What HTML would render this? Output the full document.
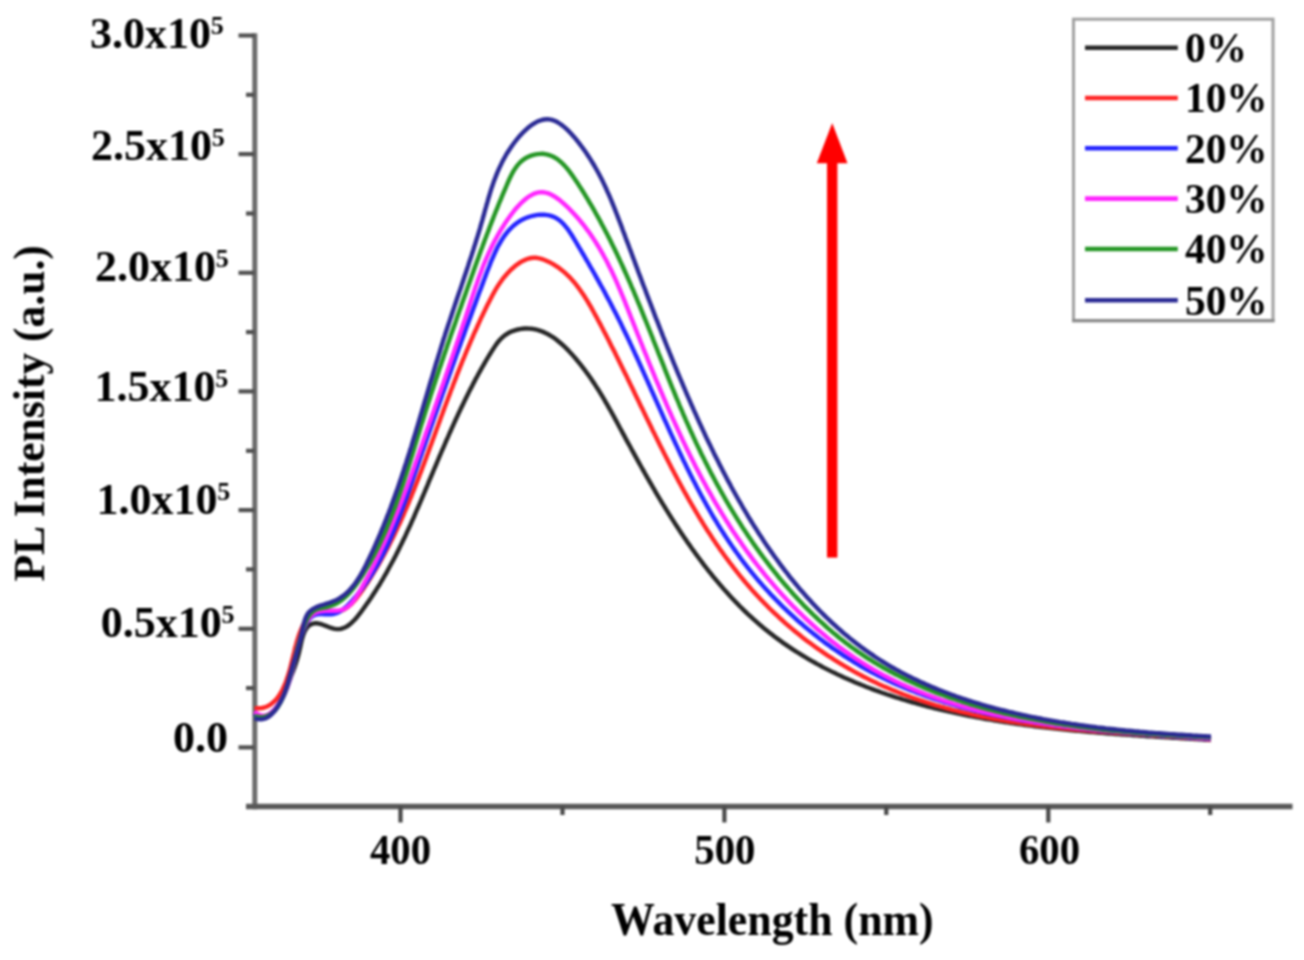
<!DOCTYPE html>
<html><head><meta charset="utf-8"><title>PL Intensity</title>
<style>html,body{margin:0;padding:0;background:#fff;width:1304px;height:960px;overflow:hidden}svg{display:block;filter:blur(0.9px)}</style>
</head><body>
<svg width="1304" height="960" viewBox="0 0 1304 960">
<rect width="1304" height="960" fill="#fff"/>
<g stroke-linecap="butt">
<line x1="254.8" y1="33.2" x2="254.8" y2="809.2" stroke="#6a6a6a" stroke-width="5.0"/>
<line x1="246" y1="806.5" x2="1292.5" y2="806.5" stroke="#585858" stroke-width="5.4"/>
<line x1="238.5" y1="35.5" x2="254.5" y2="35.5" stroke="#505050" stroke-width="4.2"/>
<line x1="246" y1="94.8" x2="254.5" y2="94.8" stroke="#505050" stroke-width="4.2"/>
<line x1="238.5" y1="154.1" x2="254.5" y2="154.1" stroke="#505050" stroke-width="4.2"/>
<line x1="246" y1="213.5" x2="254.5" y2="213.5" stroke="#505050" stroke-width="4.2"/>
<line x1="238.5" y1="272.8" x2="254.5" y2="272.8" stroke="#505050" stroke-width="4.2"/>
<line x1="246" y1="332.1" x2="254.5" y2="332.1" stroke="#505050" stroke-width="4.2"/>
<line x1="238.5" y1="391.4" x2="254.5" y2="391.4" stroke="#505050" stroke-width="4.2"/>
<line x1="246" y1="450.8" x2="254.5" y2="450.8" stroke="#505050" stroke-width="4.2"/>
<line x1="238.5" y1="510.1" x2="254.5" y2="510.1" stroke="#505050" stroke-width="4.2"/>
<line x1="246" y1="569.4" x2="254.5" y2="569.4" stroke="#505050" stroke-width="4.2"/>
<line x1="238.5" y1="628.8" x2="254.5" y2="628.8" stroke="#505050" stroke-width="4.2"/>
<line x1="246" y1="688.1" x2="254.5" y2="688.1" stroke="#505050" stroke-width="4.2"/>
<line x1="238.5" y1="747.4" x2="254.5" y2="747.4" stroke="#505050" stroke-width="4.2"/>
<line x1="400.5" y1="806.5" x2="400.5" y2="822.5" stroke="#484848" stroke-width="4.2"/>
<line x1="562.5" y1="806.5" x2="562.5" y2="815.0" stroke="#484848" stroke-width="4.2"/>
<line x1="724.4" y1="806.5" x2="724.4" y2="822.5" stroke="#484848" stroke-width="4.2"/>
<line x1="886.3" y1="806.5" x2="886.3" y2="815.0" stroke="#484848" stroke-width="4.2"/>
<line x1="1048.3" y1="806.5" x2="1048.3" y2="822.5" stroke="#484848" stroke-width="4.2"/>
<line x1="1210.2" y1="806.5" x2="1210.2" y2="815.0" stroke="#484848" stroke-width="4.2"/>
</g>
<g fill="none" stroke-width="4.40" stroke-linejoin="round" stroke-linecap="butt">
<path d="M254.5 713.0 L256.7 714.7 L258.9 715.8 L261.1 716.4 L263.2 716.5 L265.2 716.2 L267.1 715.6 L269.0 714.7 L270.8 713.4 L272.5 712.0 L274.1 710.3 L275.6 708.5 L277.0 706.6 L278.3 704.6 L279.6 702.6 L280.7 700.5 L281.8 698.3 L282.8 696.1 L283.8 693.9 L284.7 691.7 L285.6 689.6 L286.5 687.4 L287.4 685.3 L288.3 683.2 L289.1 681.1 L290.0 679.1 L290.8 677.0 L291.6 675.0 L292.4 673.0 L293.2 671.0 L293.9 668.9 L294.7 666.9 L295.4 664.8 L296.1 662.6 L296.8 660.5 L297.4 658.3 L298.1 656.0 L298.7 653.7 L299.3 651.3 L299.8 648.9 L300.4 646.4 L300.9 643.9 L301.5 641.3 L302.1 638.8 L302.8 636.4 L303.6 634.1 L304.4 632.0 L305.4 630.0 L306.6 628.2 L307.9 626.6 L309.3 625.4 L311.0 624.4 L312.7 623.7 L314.7 623.3 L316.7 623.3 L318.9 623.6 L321.1 624.2 L323.4 625.0 L325.8 625.9 L328.1 626.8 L330.4 627.7 L332.7 628.4 L334.9 628.9 L337.0 629.1 L339.1 629.1 L341.0 628.8 L342.9 628.2 L344.8 627.5 L346.5 626.6 L348.3 625.5 L349.9 624.2 L351.5 622.9 L353.1 621.3 L354.7 619.7 L356.2 618.0 L357.6 616.3 L359.1 614.4 L360.5 612.6 L361.9 610.7 L363.3 608.8 L364.6 606.9 L366.0 605.0 L367.3 603.1 L368.7 601.2 L370.0 599.3 L371.3 597.4 L372.5 595.5 L373.8 593.5 L375.1 591.6 L376.3 589.6 L377.5 587.7 L378.8 585.7 L380.0 583.8 L381.1 581.8 L382.3 579.8 L383.5 577.8 L384.6 575.8 L385.8 573.8 L386.9 571.9 L388.0 569.8 L389.1 567.8 L390.2 565.8 L391.3 563.8 L392.4 561.8 L393.5 559.8 L394.5 557.7 L395.6 555.7 L396.6 553.6 L397.7 551.6 L398.7 549.5 L399.7 547.5 L400.7 545.4 L401.7 543.4 L402.7 541.3 L403.7 539.2 L404.7 537.2 L405.7 535.1 L406.6 533.0 L407.6 530.9 L408.6 528.8 L409.5 526.8 L410.5 524.7 L411.4 522.6 L412.3 520.5 L413.3 518.4 L414.2 516.3 L415.1 514.2 L416.0 512.0 L416.9 509.9 L417.9 507.8 L418.8 505.7 L419.7 503.6 L420.6 501.5 L421.5 499.4 L422.4 497.2 L423.3 495.1 L424.2 493.0 L425.1 490.9 L426.0 488.7 L426.9 486.6 L427.8 484.5 L428.6 482.3 L429.5 480.2 L430.4 478.1 L431.3 475.9 L432.2 473.8 L433.1 471.7 L434.0 469.5 L434.9 467.4 L435.8 465.3 L436.7 463.1 L437.6 461.0 L438.5 458.9 L439.4 456.7 L440.3 454.6 L441.2 452.5 L442.1 450.3 L443.1 448.2 L444.0 446.1 L444.9 444.0 L445.8 441.8 L446.7 439.7 L447.7 437.6 L448.6 435.5 L449.5 433.4 L450.5 431.3 L451.4 429.2 L452.3 427.1 L453.3 425.0 L454.2 422.9 L455.2 420.8 L456.1 418.7 L457.1 416.6 L458.1 414.5 L459.0 412.4 L460.0 410.4 L461.0 408.3 L462.0 406.2 L463.0 404.2 L464.0 402.1 L465.0 400.1 L466.0 398.0 L467.0 396.0 L468.0 394.0 L469.0 391.9 L470.0 389.9 L471.1 387.9 L472.1 385.9 L473.1 383.9 L474.2 381.9 L475.2 379.9 L476.3 377.9 L477.4 376.0 L478.4 374.0 L479.5 372.1 L480.6 370.1 L481.7 368.2 L482.8 366.2 L483.9 364.3 L485.0 362.4 L486.1 360.5 L487.2 358.6 L488.4 356.7 L489.5 354.8 L490.7 353.0 L491.8 351.1 L493.0 349.3 L494.2 347.4 L495.4 345.6 L496.6 343.9 L497.9 342.2 L499.3 340.5 L500.7 339.0 L502.2 337.5 L503.9 336.1 L505.6 334.8 L507.4 333.6 L509.3 332.5 L511.3 331.6 L513.5 330.8 L515.6 330.1 L517.9 329.5 L520.1 329.1 L522.4 328.7 L524.8 328.5 L527.1 328.5 L529.3 328.6 L531.6 328.8 L533.8 329.1 L536.0 329.5 L538.2 330.1 L540.3 330.8 L542.4 331.6 L544.4 332.4 L546.5 333.4 L548.5 334.5 L550.4 335.6 L552.4 336.8 L554.3 338.1 L556.2 339.5 L558.0 341.0 L559.8 342.5 L561.6 344.0 L563.4 345.6 L565.1 347.2 L566.8 348.9 L568.5 350.6 L570.1 352.4 L571.7 354.1 L573.3 355.9 L574.9 357.7 L576.4 359.5 L577.9 361.3 L579.4 363.2 L580.9 365.0 L582.3 366.8 L583.7 368.6 L585.1 370.5 L586.4 372.3 L587.8 374.1 L589.1 376.0 L590.4 377.8 L591.7 379.7 L592.9 381.6 L594.2 383.4 L595.4 385.3 L596.6 387.2 L597.8 389.0 L599.0 390.9 L600.2 392.8 L601.3 394.7 L602.5 396.6 L603.6 398.5 L604.7 400.4 L605.8 402.3 L606.9 404.2 L608.0 406.1 L609.1 408.1 L610.2 410.0 L611.3 411.9 L612.3 413.8 L613.4 415.8 L614.5 417.7 L615.5 419.7 L616.6 421.6 L617.6 423.6 L618.7 425.5 L619.7 427.5 L620.8 429.5 L621.9 431.4 L622.9 433.4 L624.0 435.4 L625.1 437.4 L626.1 439.4 L627.2 441.4 L628.3 443.3 L629.4 445.3 L630.5 447.3 L631.6 449.4 L632.7 451.4 L633.8 453.4 L634.9 455.4 L636.0 457.4 L637.1 459.4 L638.2 461.4 L639.3 463.4 L640.5 465.5 L641.6 467.5 L642.7 469.5 L643.9 471.5 L645.0 473.6 L646.2 475.6 L647.3 477.6 L648.5 479.6 L649.6 481.6 L650.8 483.7 L652.0 485.7 L653.1 487.7 L654.3 489.7 L655.5 491.8 L656.7 493.8 L657.9 495.8 L659.1 497.8 L660.3 499.8 L661.5 501.9 L662.7 503.9 L664.0 505.9 L665.2 507.9 L666.4 509.9 L667.7 511.9 L668.9 513.9 L670.2 515.9 L671.4 517.9 L672.7 519.9 L674.0 521.9 L675.2 523.8 L676.5 525.8 L677.8 527.8 L679.1 529.8 L680.4 531.7 L681.7 533.7 L683.0 535.6 L684.3 537.6 L685.7 539.5 L687.0 541.5 L688.3 543.4 L689.7 545.3 L691.0 547.3 L692.4 549.2 L693.8 551.1 L695.1 553.0 L696.5 554.9 L697.9 556.8 L699.3 558.7 L700.7 560.5 L702.1 562.4 L703.5 564.3 L704.9 566.1 L706.4 568.0 L707.8 569.8 L709.2 571.6 L710.7 573.4 L712.2 575.3 L713.6 577.1 L715.1 578.8 L716.6 580.6 L718.1 582.4 L719.6 584.2 L721.1 585.9 L722.6 587.7 L724.1 589.4 L725.6 591.1 L727.2 592.8 L728.7 594.5 L730.3 596.2 L731.8 597.9 L733.4 599.6 L735.0 601.3 L736.6 602.9 L738.2 604.5 L739.8 606.2 L741.4 607.8 L743.0 609.4 L744.6 611.0 L746.3 612.5 L747.9 614.1 L749.6 615.6 L751.3 617.2 L752.9 618.7 L754.6 620.2 L756.3 621.7 L758.0 623.2 L759.7 624.7 L761.5 626.1 L763.2 627.6 L764.9 629.0 L766.7 630.4 L768.4 631.8 L770.2 633.2 L772.0 634.6 L773.7 635.9 L775.5 637.3 L777.3 638.6 L779.1 639.9 L781.0 641.3 L782.8 642.6 L784.6 643.8 L786.5 645.1 L788.3 646.4 L790.2 647.6 L792.0 648.9 L793.9 650.1 L795.8 651.3 L797.7 652.5 L799.6 653.7 L801.5 654.9 L803.4 656.0 L805.3 657.2 L807.2 658.3 L809.1 659.5 L811.1 660.6 L813.0 661.7 L815.0 662.8 L816.9 663.9 L818.9 664.9 L820.9 666.0 L822.8 667.1 L824.8 668.1 L826.8 669.1 L828.8 670.1 L830.8 671.1 L832.8 672.1 L834.9 673.1 L836.9 674.1 L838.9 675.1 L841.0 676.0 L843.0 677.0 L845.1 677.9 L847.1 678.8 L849.2 679.7 L851.2 680.6 L853.3 681.5 L855.4 682.4 L857.5 683.3 L859.6 684.1 L861.7 685.0 L863.8 685.8 L865.9 686.7 L868.0 687.5 L870.1 688.3 L872.2 689.1 L874.3 689.9 L876.5 690.7 L878.6 691.4 L880.8 692.2 L882.9 693.0 L885.1 693.7 L887.2 694.5 L889.4 695.2 L891.5 695.9 L893.7 696.6 L895.9 697.3 L898.1 698.0 L900.3 698.7 L902.4 699.4 L904.6 700.0 L906.8 700.7 L909.0 701.3 L911.2 702.0 L913.5 702.6 L915.7 703.2 L917.9 703.9 L920.1 704.5 L922.3 705.1 L924.6 705.7 L926.8 706.3 L929.0 706.8 L931.3 707.4 L933.5 708.0 L935.8 708.5 L938.0 709.1 L940.3 709.6 L942.5 710.1 L944.8 710.7 L947.0 711.2 L949.3 711.7 L951.6 712.2 L953.8 712.7 L956.1 713.2 L958.4 713.7 L960.6 714.1 L962.9 714.6 L965.2 715.1 L967.5 715.5 L969.8 716.0 L972.1 716.4 L974.4 716.9 L976.7 717.3 L979.0 717.7 L981.3 718.1 L983.6 718.5 L985.9 719.0 L988.2 719.3 L990.5 719.7 L992.8 720.1 L995.1 720.5 L997.4 720.9 L999.7 721.3 L1002.0 721.6 L1004.3 722.0 L1006.6 722.3 L1009.0 722.7 L1011.3 723.0 L1013.6 723.4 L1015.9 723.7 L1018.2 724.0 L1020.6 724.3 L1022.9 724.7 L1025.2 725.0 L1027.5 725.3 L1029.8 725.6 L1032.2 725.9 L1034.5 726.2 L1036.8 726.5 L1039.2 726.7 L1041.5 727.0 L1043.8 727.3 L1046.1 727.6 L1048.5 727.8 L1050.8 728.1 L1053.1 728.3 L1055.4 728.6 L1057.8 728.8 L1060.1 729.1 L1062.4 729.3 L1064.7 729.6 L1067.1 729.8 L1069.4 730.0 L1071.7 730.3 L1074.0 730.5 L1076.4 730.7 L1078.7 730.9 L1081.0 731.1 L1083.3 731.3 L1085.7 731.5 L1088.0 731.8 L1090.3 732.0 L1092.6 732.1 L1094.9 732.3 L1097.2 732.5 L1099.6 732.7 L1101.9 732.9 L1104.2 733.1 L1106.5 733.3 L1108.8 733.5 L1111.1 733.6 L1113.4 733.8 L1115.7 734.0 L1118.0 734.1 L1120.3 734.3 L1122.6 734.5 L1124.9 734.6 L1127.2 734.8 L1129.5 734.9 L1131.8 735.1 L1134.0 735.3 L1136.3 735.4 L1138.6 735.6 L1140.9 735.7 L1143.2 735.9 L1145.4 736.0 L1147.7 736.2 L1150.0 736.3 L1152.2 736.4 L1154.5 736.6 L1156.8 736.7 L1159.0 736.9 L1161.3 737.0 L1163.5 737.1 L1165.8 737.3 L1168.0 737.4 L1170.2 737.5 L1172.5 737.7 L1174.7 737.8 L1176.9 737.9 L1179.2 738.1 L1181.4 738.2 L1183.6 738.3 L1185.8 738.5 L1188.0 738.6 L1190.2 738.7 L1192.4 738.9 L1194.6 739.0 L1196.8 739.1 L1199.0 739.3 L1201.2 739.4 L1203.4 739.5 L1205.5 739.7 L1207.7 739.8 L1209.9 739.9 L1211.0 740.0" stroke="#262626"/>
<path d="M254.5 708.1 L257.1 708.3 L259.6 708.3 L262.0 708.0 L264.3 707.5 L266.4 706.7 L268.5 705.7 L270.4 704.6 L272.2 703.2 L273.9 701.7 L275.5 700.1 L277.0 698.3 L278.5 696.4 L279.8 694.3 L281.1 692.2 L282.3 690.0 L283.4 687.8 L284.4 685.4 L285.4 683.1 L286.3 680.7 L287.1 678.3 L287.9 675.9 L288.7 673.5 L289.4 671.1 L290.1 668.7 L290.7 666.3 L291.3 663.8 L291.9 661.4 L292.5 659.0 L293.1 656.6 L293.7 654.1 L294.3 651.7 L294.8 649.3 L295.4 646.9 L296.1 644.6 L296.7 642.2 L297.4 639.9 L298.1 637.6 L298.9 635.3 L299.7 633.0 L300.6 630.8 L301.5 628.6 L302.5 626.4 L303.5 624.3 L304.7 622.2 L305.9 620.2 L307.3 618.3 L308.8 616.7 L310.4 615.2 L312.2 614.0 L314.1 613.1 L316.3 612.5 L318.6 612.2 L321.1 612.2 L323.7 612.4 L326.3 612.6 L328.9 612.7 L331.5 612.8 L333.9 612.7 L336.3 612.3 L338.5 611.8 L340.7 611.0 L342.8 610.1 L344.8 609.0 L346.7 607.8 L348.5 606.4 L350.3 604.9 L352.0 603.3 L353.6 601.6 L355.2 599.8 L356.7 597.9 L358.2 596.0 L359.7 594.0 L361.1 592.0 L362.6 590.0 L364.0 587.9 L365.3 585.9 L366.7 583.8 L368.1 581.7 L369.4 579.6 L370.7 577.5 L372.0 575.4 L373.3 573.3 L374.6 571.2 L375.9 569.1 L377.1 567.0 L378.4 564.9 L379.6 562.7 L380.8 560.6 L382.0 558.5 L383.2 556.3 L384.3 554.2 L385.5 552.0 L386.6 549.8 L387.8 547.7 L388.9 545.5 L390.0 543.3 L391.1 541.1 L392.2 538.9 L393.3 536.7 L394.4 534.5 L395.4 532.3 L396.5 530.1 L397.5 527.9 L398.5 525.7 L399.6 523.5 L400.6 521.3 L401.6 519.0 L402.6 516.8 L403.6 514.6 L404.5 512.3 L405.5 510.1 L406.5 507.8 L407.4 505.6 L408.4 503.3 L409.3 501.1 L410.2 498.8 L411.2 496.6 L412.1 494.3 L413.0 492.0 L413.9 489.8 L414.8 487.5 L415.7 485.2 L416.6 483.0 L417.5 480.7 L418.4 478.4 L419.3 476.1 L420.1 473.8 L421.0 471.6 L421.9 469.3 L422.7 467.0 L423.6 464.7 L424.5 462.4 L425.3 460.1 L426.2 457.8 L427.0 455.5 L427.9 453.2 L428.7 450.9 L429.6 448.6 L430.4 446.3 L431.3 444.0 L432.1 441.8 L432.9 439.5 L433.8 437.2 L434.6 434.9 L435.5 432.6 L436.3 430.3 L437.1 428.0 L438.0 425.7 L438.8 423.4 L439.7 421.1 L440.5 418.8 L441.3 416.5 L442.2 414.2 L443.0 411.9 L443.9 409.6 L444.7 407.3 L445.6 405.0 L446.4 402.8 L447.3 400.5 L448.1 398.2 L449.0 395.9 L449.9 393.6 L450.7 391.3 L451.6 389.0 L452.5 386.8 L453.3 384.5 L454.2 382.2 L455.1 379.9 L456.0 377.7 L456.8 375.4 L457.7 373.1 L458.6 370.9 L459.5 368.6 L460.4 366.3 L461.3 364.1 L462.2 361.8 L463.1 359.5 L464.1 357.3 L465.0 355.0 L465.9 352.8 L466.8 350.5 L467.8 348.3 L468.7 346.1 L469.7 343.8 L470.6 341.6 L471.6 339.4 L472.6 337.1 L473.5 334.9 L474.5 332.7 L475.5 330.5 L476.5 328.3 L477.5 326.0 L478.5 323.8 L479.5 321.6 L480.5 319.4 L481.5 317.2 L482.6 315.0 L483.6 312.8 L484.7 310.7 L485.7 308.5 L486.8 306.3 L487.9 304.1 L489.0 302.0 L490.1 299.8 L491.2 297.7 L492.3 295.5 L493.5 293.4 L494.6 291.3 L495.9 289.2 L497.1 287.2 L498.4 285.1 L499.7 283.1 L501.1 281.2 L502.5 279.2 L504.0 277.3 L505.6 275.5 L507.2 273.6 L508.8 271.9 L510.5 270.1 L512.3 268.5 L514.2 266.8 L516.1 265.3 L518.1 263.8 L520.2 262.4 L522.3 261.2 L524.5 260.1 L526.7 259.2 L528.9 258.5 L531.2 258.0 L533.5 257.8 L535.9 257.8 L538.2 258.1 L540.5 258.6 L542.8 259.3 L545.1 260.2 L547.4 261.2 L549.6 262.2 L551.7 263.4 L553.8 264.5 L555.8 265.8 L557.8 267.1 L559.7 268.5 L561.5 269.9 L563.3 271.4 L565.1 272.9 L566.8 274.5 L568.5 276.1 L570.2 277.8 L571.8 279.6 L573.3 281.3 L574.9 283.1 L576.4 285.0 L577.8 286.9 L579.2 288.8 L580.6 290.7 L582.0 292.7 L583.4 294.7 L584.7 296.7 L586.0 298.8 L587.3 300.9 L588.5 303.0 L589.8 305.1 L591.0 307.2 L592.2 309.4 L593.4 311.5 L594.6 313.7 L595.8 315.9 L597.0 318.0 L598.1 320.2 L599.3 322.4 L600.5 324.6 L601.6 326.8 L602.8 329.0 L603.9 331.2 L605.1 333.4 L606.2 335.6 L607.3 337.8 L608.5 340.0 L609.6 342.2 L610.7 344.5 L611.8 346.7 L613.0 348.9 L614.1 351.1 L615.2 353.3 L616.3 355.6 L617.4 357.8 L618.5 360.0 L619.6 362.2 L620.7 364.5 L621.8 366.7 L622.9 368.9 L624.0 371.2 L625.1 373.4 L626.2 375.6 L627.3 377.9 L628.3 380.1 L629.4 382.3 L630.5 384.6 L631.6 386.8 L632.7 389.0 L633.8 391.3 L634.8 393.5 L635.9 395.7 L637.0 398.0 L638.1 400.2 L639.1 402.4 L640.2 404.7 L641.3 406.9 L642.4 409.1 L643.5 411.4 L644.5 413.6 L645.6 415.8 L646.7 418.1 L647.8 420.3 L648.9 422.5 L650.0 424.8 L651.1 427.0 L652.1 429.2 L653.2 431.4 L654.3 433.6 L655.4 435.9 L656.5 438.1 L657.6 440.3 L658.7 442.5 L659.8 444.7 L660.9 446.9 L662.0 449.1 L663.1 451.3 L664.2 453.5 L665.4 455.7 L666.5 457.9 L667.6 460.1 L668.7 462.3 L669.9 464.5 L671.0 466.7 L672.1 468.9 L673.3 471.0 L674.4 473.2 L675.6 475.4 L676.7 477.5 L677.9 479.7 L679.0 481.9 L680.2 484.0 L681.4 486.2 L682.5 488.3 L683.7 490.5 L684.9 492.6 L686.1 494.7 L687.3 496.9 L688.5 499.0 L689.7 501.1 L690.9 503.2 L692.2 505.3 L693.4 507.4 L694.6 509.5 L695.9 511.6 L697.1 513.7 L698.4 515.8 L699.6 517.9 L700.9 520.0 L702.2 522.0 L703.4 524.1 L704.7 526.2 L706.0 528.2 L707.3 530.3 L708.6 532.3 L710.0 534.3 L711.3 536.4 L712.6 538.4 L714.0 540.4 L715.3 542.4 L716.7 544.4 L718.1 546.4 L719.4 548.4 L720.8 550.4 L722.2 552.3 L723.6 554.3 L725.0 556.2 L726.5 558.2 L727.9 560.1 L729.3 562.1 L730.8 564.0 L732.3 565.9 L733.7 567.8 L735.2 569.7 L736.7 571.6 L738.2 573.5 L739.7 575.4 L741.3 577.3 L742.8 579.2 L744.3 581.0 L745.9 582.9 L747.5 584.7 L749.0 586.5 L750.6 588.3 L752.2 590.2 L753.9 592.0 L755.5 593.8 L757.1 595.5 L758.8 597.3 L760.4 599.1 L762.1 600.8 L763.8 602.6 L765.5 604.3 L767.2 606.0 L768.9 607.8 L770.7 609.5 L772.4 611.2 L774.2 612.9 L776.0 614.5 L777.8 616.2 L779.5 617.8 L781.4 619.5 L783.2 621.1 L785.0 622.8 L786.8 624.4 L788.7 626.0 L790.6 627.6 L792.4 629.1 L794.3 630.7 L796.2 632.3 L798.1 633.8 L800.0 635.3 L801.9 636.9 L803.9 638.4 L805.8 639.9 L807.8 641.4 L809.7 642.8 L811.7 644.3 L813.7 645.7 L815.7 647.2 L817.7 648.6 L819.7 650.0 L821.7 651.4 L823.7 652.8 L825.8 654.2 L827.8 655.6 L829.9 656.9 L831.9 658.2 L834.0 659.6 L836.1 660.9 L838.1 662.2 L840.2 663.5 L842.3 664.7 L844.4 666.0 L846.5 667.2 L848.7 668.5 L850.8 669.7 L852.9 670.9 L855.1 672.1 L857.2 673.2 L859.4 674.4 L861.5 675.5 L863.7 676.7 L865.9 677.8 L868.1 678.9 L870.2 680.0 L872.4 681.0 L874.6 682.1 L876.8 683.1 L879.0 684.2 L881.3 685.2 L883.5 686.2 L885.7 687.1 L887.9 688.1 L890.2 689.1 L892.4 690.0 L894.7 690.9 L896.9 691.8 L899.2 692.7 L901.4 693.6 L903.7 694.5 L906.0 695.3 L908.2 696.2 L910.5 697.0 L912.8 697.8 L915.1 698.6 L917.4 699.4 L919.7 700.2 L922.0 700.9 L924.3 701.7 L926.6 702.4 L928.9 703.1 L931.3 703.9 L933.6 704.6 L935.9 705.3 L938.3 705.9 L940.6 706.6 L942.9 707.2 L945.3 707.9 L947.6 708.5 L950.0 709.1 L952.3 709.8 L954.7 710.4 L957.1 710.9 L959.4 711.5 L961.8 712.1 L964.2 712.6 L966.5 713.2 L968.9 713.7 L971.3 714.3 L973.7 714.8 L976.1 715.3 L978.5 715.8 L980.9 716.3 L983.3 716.8 L985.7 717.2 L988.1 717.7 L990.5 718.1 L992.9 718.6 L995.3 719.0 L997.7 719.4 L1000.1 719.9 L1002.5 720.3 L1005.0 720.7 L1007.4 721.1 L1009.8 721.5 L1012.2 721.8 L1014.7 722.2 L1017.1 722.6 L1019.5 722.9 L1022.0 723.3 L1024.4 723.6 L1026.8 724.0 L1029.3 724.3 L1031.7 724.6 L1034.1 724.9 L1036.6 725.3 L1039.0 725.6 L1041.5 725.9 L1043.9 726.2 L1046.4 726.4 L1048.8 726.7 L1051.3 727.0 L1053.7 727.3 L1056.2 727.5 L1058.6 727.8 L1061.1 728.0 L1063.5 728.3 L1066.0 728.5 L1068.5 728.8 L1070.9 729.0 L1073.4 729.3 L1075.8 729.5 L1078.3 729.7 L1080.7 729.9 L1083.2 730.1 L1085.7 730.4 L1088.1 730.6 L1090.6 730.8 L1093.0 731.0 L1095.5 731.2 L1097.9 731.4 L1100.4 731.6 L1102.9 731.7 L1105.3 731.9 L1107.8 732.1 L1110.2 732.3 L1112.7 732.5 L1115.1 732.7 L1117.6 732.8 L1120.1 733.0 L1122.5 733.2 L1125.0 733.4 L1127.4 733.5 L1129.9 733.7 L1132.3 733.9 L1134.8 734.0 L1137.2 734.2 L1139.7 734.4 L1142.1 734.5 L1144.5 734.7 L1147.0 734.9 L1149.4 735.0 L1151.9 735.2 L1154.3 735.3 L1156.7 735.5 L1159.2 735.7 L1161.6 735.8 L1164.0 736.0 L1166.5 736.2 L1168.9 736.3 L1171.3 736.5 L1173.7 736.7 L1176.2 736.8 L1178.6 737.0 L1181.0 737.2 L1183.4 737.4 L1185.8 737.5 L1188.2 737.7 L1190.6 737.9 L1193.1 738.1 L1195.5 738.3 L1197.9 738.4 L1200.2 738.6 L1202.6 738.8 L1205.0 739.0 L1207.4 739.2 L1209.8 739.4 L1211.0 739.5" stroke="#ff2424"/>
<path d="M254.5 714.0 L255.8 715.0 L257.1 715.8 L259.6 716.9 L262.0 717.3 L264.3 717.1 L266.5 716.4 L268.6 715.3 L270.6 713.8 L272.5 712.1 L274.3 710.1 L276.0 708.1 L277.5 706.0 L279.0 703.8 L280.4 701.7 L281.7 699.4 L282.9 697.2 L284.1 694.8 L285.1 692.5 L286.1 690.1 L287.1 687.8 L287.9 685.3 L288.8 682.9 L289.5 680.5 L290.3 678.0 L291.0 675.5 L291.6 673.0 L292.3 670.5 L292.9 668.0 L293.5 665.4 L294.1 662.9 L294.7 660.4 L295.3 657.8 L295.9 655.3 L296.5 652.8 L297.1 650.2 L297.7 647.7 L298.4 645.2 L299.1 642.7 L299.9 640.3 L300.6 637.8 L301.5 635.3 L302.4 632.9 L303.3 630.5 L304.3 628.1 L305.4 625.8 L306.5 623.5 L307.8 621.3 L309.2 619.3 L310.8 617.5 L312.6 616.1 L314.7 615.0 L317.0 614.3 L319.5 614.1 L322.2 614.1 L325.0 614.3 L327.8 614.4 L330.5 614.4 L333.0 614.0 L335.4 613.4 L337.7 612.6 L339.8 611.5 L341.9 610.2 L343.8 608.8 L345.7 607.2 L347.5 605.5 L349.2 603.8 L350.9 602.0 L352.6 600.1 L354.2 598.3 L355.9 596.4 L357.5 594.5 L359.0 592.5 L360.6 590.6 L362.1 588.6 L363.6 586.6 L365.0 584.6 L366.5 582.5 L367.9 580.4 L369.3 578.3 L370.6 576.2 L372.0 574.1 L373.3 571.9 L374.6 569.7 L375.9 567.5 L377.2 565.3 L378.4 563.1 L379.6 560.8 L380.8 558.6 L382.0 556.3 L383.2 554.0 L384.3 551.7 L385.5 549.4 L386.6 547.0 L387.7 544.7 L388.8 542.3 L389.8 539.9 L390.9 537.5 L391.9 535.1 L393.0 532.7 L394.0 530.3 L395.0 527.9 L396.0 525.5 L396.9 523.0 L397.9 520.6 L398.9 518.1 L399.8 515.7 L400.7 513.2 L401.7 510.7 L402.6 508.3 L403.5 505.8 L404.4 503.3 L405.3 500.8 L406.2 498.4 L407.1 495.9 L407.9 493.4 L408.8 490.9 L409.7 488.4 L410.5 486.0 L411.4 483.5 L412.3 481.0 L413.1 478.5 L414.0 476.1 L414.8 473.6 L415.7 471.1 L416.5 468.7 L417.4 466.2 L418.2 463.8 L419.1 461.3 L419.9 458.9 L420.7 456.5 L421.6 454.0 L422.4 451.6 L423.3 449.2 L424.1 446.8 L425.0 444.4 L425.8 441.9 L426.6 439.5 L427.5 437.1 L428.3 434.7 L429.1 432.3 L430.0 429.9 L430.8 427.5 L431.7 425.1 L432.5 422.7 L433.3 420.3 L434.2 417.9 L435.0 415.6 L435.8 413.2 L436.7 410.8 L437.5 408.4 L438.4 406.0 L439.2 403.6 L440.0 401.3 L440.9 398.9 L441.7 396.5 L442.5 394.1 L443.4 391.7 L444.2 389.4 L445.1 387.0 L445.9 384.6 L446.8 382.2 L447.6 379.8 L448.5 377.5 L449.3 375.1 L450.2 372.7 L451.0 370.3 L451.9 367.9 L452.7 365.5 L453.6 363.2 L454.4 360.8 L455.3 358.4 L456.1 356.0 L457.0 353.6 L457.9 351.2 L458.7 348.8 L459.6 346.4 L460.5 344.0 L461.3 341.6 L462.2 339.2 L463.1 336.8 L464.0 334.4 L464.8 332.0 L465.7 329.5 L466.6 327.1 L467.5 324.7 L468.4 322.3 L469.3 319.8 L470.2 317.4 L471.1 315.0 L472.0 312.5 L472.9 310.1 L473.8 307.6 L474.7 305.2 L475.6 302.7 L476.5 300.2 L477.4 297.8 L478.3 295.3 L479.2 292.8 L480.2 290.3 L481.1 287.9 L482.0 285.4 L483.0 282.9 L483.9 280.3 L484.9 277.8 L485.8 275.3 L486.7 272.8 L487.7 270.3 L488.7 267.7 L489.7 265.2 L490.6 262.7 L491.7 260.2 L492.7 257.8 L493.8 255.3 L494.9 252.9 L496.0 250.5 L497.1 248.1 L498.3 245.8 L499.6 243.6 L500.9 241.4 L502.2 239.2 L503.6 237.1 L505.0 235.1 L506.5 233.1 L508.1 231.2 L509.7 229.4 L511.4 227.7 L513.1 226.0 L515.0 224.5 L516.9 223.0 L518.9 221.7 L520.9 220.4 L523.1 219.2 L525.3 218.2 L527.7 217.3 L530.1 216.5 L532.6 215.8 L535.1 215.3 L537.6 214.9 L540.2 214.7 L542.7 214.7 L545.2 214.8 L547.7 215.2 L550.1 215.7 L552.4 216.4 L554.6 217.3 L556.7 218.4 L558.7 219.8 L560.7 221.3 L562.5 223.0 L564.2 224.8 L565.9 226.8 L567.5 228.8 L569.0 231.0 L570.5 233.2 L572.0 235.5 L573.4 237.8 L574.8 240.1 L576.2 242.5 L577.6 244.8 L578.9 247.1 L580.3 249.4 L581.6 251.7 L583.0 254.0 L584.3 256.2 L585.6 258.5 L587.0 260.8 L588.3 263.0 L589.6 265.3 L590.8 267.5 L592.1 269.7 L593.4 272.0 L594.7 274.2 L595.9 276.4 L597.1 278.6 L598.4 280.9 L599.6 283.1 L600.8 285.3 L602.1 287.5 L603.3 289.7 L604.5 291.9 L605.7 294.2 L606.8 296.4 L608.0 298.6 L609.2 300.8 L610.4 303.0 L611.5 305.2 L612.7 307.5 L613.8 309.7 L615.0 311.9 L616.1 314.1 L617.2 316.4 L618.4 318.6 L619.5 320.9 L620.6 323.1 L621.7 325.4 L622.8 327.7 L623.9 329.9 L625.0 332.2 L626.1 334.5 L627.2 336.8 L628.3 339.1 L629.4 341.3 L630.4 343.6 L631.5 345.9 L632.6 348.3 L633.7 350.6 L634.7 352.9 L635.8 355.2 L636.9 357.5 L637.9 359.8 L639.0 362.2 L640.0 364.5 L641.1 366.8 L642.1 369.2 L643.2 371.5 L644.2 373.9 L645.3 376.2 L646.3 378.6 L647.4 380.9 L648.4 383.3 L649.5 385.6 L650.5 388.0 L651.5 390.3 L652.6 392.7 L653.6 395.0 L654.7 397.4 L655.7 399.8 L656.8 402.1 L657.8 404.5 L658.9 406.8 L659.9 409.2 L661.0 411.6 L662.0 413.9 L663.1 416.3 L664.1 418.7 L665.2 421.0 L666.3 423.4 L667.3 425.7 L668.4 428.1 L669.5 430.5 L670.5 432.8 L671.6 435.2 L672.7 437.5 L673.8 439.9 L674.9 442.2 L676.0 444.6 L677.1 446.9 L678.2 449.3 L679.3 451.6 L680.4 454.0 L681.5 456.3 L682.6 458.6 L683.7 461.0 L684.9 463.3 L686.0 465.6 L687.1 468.0 L688.3 470.3 L689.4 472.6 L690.6 474.9 L691.8 477.2 L692.9 479.5 L694.1 481.8 L695.3 484.1 L696.5 486.4 L697.7 488.7 L698.9 491.0 L700.1 493.3 L701.3 495.5 L702.6 497.8 L703.8 500.1 L705.1 502.3 L706.3 504.6 L707.6 506.8 L708.9 509.1 L710.1 511.3 L711.4 513.5 L712.7 515.8 L714.0 518.0 L715.4 520.2 L716.7 522.4 L718.0 524.6 L719.4 526.8 L720.7 529.0 L722.1 531.1 L723.5 533.3 L724.9 535.5 L726.3 537.6 L727.7 539.8 L729.1 541.9 L730.6 544.0 L732.0 546.1 L733.5 548.3 L735.0 550.4 L736.5 552.5 L738.0 554.5 L739.5 556.6 L741.0 558.7 L742.5 560.7 L744.1 562.8 L745.6 564.8 L747.2 566.9 L748.8 568.9 L750.4 570.9 L752.0 572.9 L753.7 574.9 L755.3 576.8 L757.0 578.8 L758.6 580.8 L760.3 582.7 L762.0 584.7 L763.7 586.6 L765.4 588.5 L767.2 590.4 L768.9 592.3 L770.6 594.2 L772.4 596.1 L774.2 597.9 L776.0 599.8 L777.8 601.6 L779.6 603.4 L781.4 605.3 L783.2 607.1 L785.1 608.8 L786.9 610.6 L788.8 612.4 L790.7 614.2 L792.6 615.9 L794.5 617.6 L796.4 619.3 L798.3 621.1 L800.2 622.7 L802.2 624.4 L804.1 626.1 L806.1 627.8 L808.1 629.4 L810.1 631.0 L812.1 632.6 L814.1 634.2 L816.1 635.8 L818.1 637.4 L820.1 639.0 L822.2 640.5 L824.2 642.1 L826.3 643.6 L828.4 645.1 L830.4 646.6 L832.5 648.1 L834.6 649.5 L836.8 651.0 L838.9 652.4 L841.0 653.8 L843.1 655.3 L845.3 656.7 L847.4 658.0 L849.6 659.4 L851.8 660.7 L854.0 662.1 L856.1 663.4 L858.3 664.7 L860.5 666.0 L862.8 667.3 L865.0 668.5 L867.2 669.8 L869.5 671.0 L871.7 672.2 L874.0 673.4 L876.2 674.6 L878.5 675.7 L880.8 676.9 L883.0 678.0 L885.3 679.1 L887.6 680.2 L889.9 681.3 L892.3 682.4 L894.6 683.4 L896.9 684.5 L899.2 685.5 L901.6 686.5 L903.9 687.5 L906.3 688.5 L908.6 689.4 L911.0 690.4 L913.4 691.3 L915.8 692.2 L918.1 693.2 L920.5 694.0 L922.9 694.9 L925.3 695.8 L927.8 696.6 L930.2 697.5 L932.6 698.3 L935.0 699.1 L937.4 699.9 L939.9 700.7 L942.3 701.5 L944.8 702.3 L947.2 703.0 L949.7 703.7 L952.1 704.5 L954.6 705.2 L957.1 705.9 L959.6 706.6 L962.0 707.3 L964.5 707.9 L967.0 708.6 L969.5 709.2 L972.0 709.9 L974.5 710.5 L977.0 711.1 L979.5 711.7 L982.0 712.3 L984.5 712.9 L987.1 713.5 L989.6 714.0 L992.1 714.6 L994.6 715.1 L997.2 715.6 L999.7 716.2 L1002.3 716.7 L1004.8 717.2 L1007.3 717.7 L1009.9 718.2 L1012.4 718.6 L1015.0 719.1 L1017.5 719.6 L1020.1 720.0 L1022.7 720.5 L1025.2 720.9 L1027.8 721.3 L1030.4 721.7 L1032.9 722.1 L1035.5 722.5 L1038.1 722.9 L1040.7 723.3 L1043.2 723.7 L1045.8 724.1 L1048.4 724.4 L1051.0 724.8 L1053.5 725.2 L1056.1 725.5 L1058.7 725.8 L1061.3 726.2 L1063.9 726.5 L1066.5 726.8 L1069.1 727.1 L1071.6 727.4 L1074.2 727.7 L1076.8 728.0 L1079.4 728.3 L1082.0 728.6 L1084.6 728.9 L1087.2 729.2 L1089.8 729.4 L1092.4 729.7 L1094.9 730.0 L1097.5 730.2 L1100.1 730.5 L1102.7 730.7 L1105.3 731.0 L1107.9 731.2 L1110.5 731.4 L1113.0 731.7 L1115.6 731.9 L1118.2 732.1 L1120.8 732.3 L1123.4 732.5 L1126.0 732.8 L1128.5 733.0 L1131.1 733.2 L1133.7 733.4 L1136.3 733.6 L1138.8 733.8 L1141.4 734.0 L1144.0 734.2 L1146.5 734.4 L1149.1 734.6 L1151.7 734.8 L1154.2 734.9 L1156.8 735.1 L1159.3 735.3 L1161.9 735.5 L1164.4 735.7 L1167.0 735.9 L1169.5 736.0 L1172.1 736.2 L1174.6 736.4 L1177.1 736.6 L1179.7 736.8 L1182.2 736.9 L1184.7 737.1 L1187.2 737.3 L1189.7 737.5 L1192.3 737.6 L1194.8 737.8 L1197.3 738.0 L1199.8 738.2 L1202.3 738.4 L1204.8 738.6 L1207.3 738.7 L1209.7 738.9 L1211.0 739.0" stroke="#2424ff"/>
<path d="M254.5 711.6 L255.7 712.7 L257.0 713.6 L259.4 715.0 L261.8 715.6 L264.1 715.7 L266.3 715.3 L268.4 714.4 L270.4 713.1 L272.3 711.6 L274.2 709.8 L275.9 707.8 L277.5 705.8 L279.0 703.6 L280.5 701.4 L281.8 699.1 L283.1 696.7 L284.3 694.3 L285.4 691.9 L286.4 689.4 L287.3 686.9 L288.2 684.4 L289.0 681.8 L289.8 679.3 L290.6 676.7 L291.3 674.1 L291.9 671.5 L292.5 668.9 L293.2 666.3 L293.7 663.7 L294.3 661.1 L294.9 658.6 L295.5 656.0 L296.1 653.4 L296.7 650.8 L297.3 648.2 L297.9 645.7 L298.6 643.1 L299.3 640.6 L300.1 638.1 L300.9 635.6 L301.8 633.1 L302.7 630.7 L303.7 628.2 L304.8 625.9 L305.9 623.5 L307.2 621.2 L308.6 619.1 L310.1 617.1 L311.8 615.3 L313.7 613.9 L315.7 612.7 L318.0 611.9 L320.5 611.3 L323.0 611.0 L325.7 610.9 L328.4 610.8 L331.2 610.8 L333.9 610.8 L336.6 610.7 L339.1 610.4 L341.6 609.9 L343.8 609.1 L346.0 608.0 L347.9 606.6 L349.8 605.1 L351.5 603.3 L353.1 601.3 L354.7 599.2 L356.2 597.0 L357.6 594.8 L359.0 592.4 L360.4 590.1 L361.7 587.7 L363.0 585.4 L364.3 583.0 L365.6 580.7 L366.9 578.3 L368.2 575.9 L369.4 573.6 L370.7 571.2 L371.9 568.8 L373.1 566.4 L374.3 564.1 L375.5 561.7 L376.7 559.3 L377.8 556.9 L379.0 554.5 L380.1 552.1 L381.2 549.7 L382.3 547.3 L383.4 544.9 L384.5 542.5 L385.6 540.1 L386.7 537.7 L387.7 535.3 L388.8 532.9 L389.8 530.5 L390.8 528.1 L391.8 525.7 L392.8 523.2 L393.8 520.8 L394.8 518.4 L395.8 516.0 L396.8 513.6 L397.8 511.1 L398.7 508.7 L399.7 506.3 L400.6 503.8 L401.6 501.4 L402.5 498.9 L403.4 496.5 L404.3 494.1 L405.2 491.6 L406.2 489.2 L407.1 486.7 L408.0 484.3 L408.9 481.8 L409.8 479.4 L410.6 476.9 L411.5 474.4 L412.4 472.0 L413.3 469.5 L414.2 467.0 L415.0 464.6 L415.9 462.1 L416.8 459.6 L417.6 457.2 L418.5 454.7 L419.4 452.2 L420.2 449.7 L421.1 447.3 L422.0 444.8 L422.8 442.3 L423.7 439.8 L424.6 437.3 L425.4 434.8 L426.3 432.3 L427.1 429.8 L428.0 427.4 L428.9 424.9 L429.7 422.4 L430.6 419.9 L431.5 417.4 L432.3 414.9 L433.2 412.4 L434.1 409.9 L434.9 407.4 L435.8 404.9 L436.7 402.4 L437.5 399.9 L438.4 397.4 L439.2 394.9 L440.1 392.4 L441.0 389.9 L441.8 387.4 L442.7 384.9 L443.6 382.4 L444.4 379.9 L445.3 377.4 L446.1 374.9 L447.0 372.4 L447.8 369.9 L448.7 367.4 L449.5 364.9 L450.4 362.4 L451.2 359.9 L452.1 357.4 L452.9 354.9 L453.8 352.4 L454.6 350.0 L455.4 347.5 L456.3 345.0 L457.1 342.5 L458.0 340.0 L458.8 337.6 L459.6 335.1 L460.4 332.6 L461.3 330.2 L462.1 327.7 L462.9 325.2 L463.7 322.8 L464.6 320.3 L465.4 317.9 L466.2 315.4 L467.0 313.0 L467.8 310.5 L468.6 308.1 L469.4 305.7 L470.2 303.2 L471.0 300.8 L471.8 298.4 L472.6 295.9 L473.4 293.5 L474.2 291.1 L475.0 288.7 L475.8 286.3 L476.7 283.9 L477.5 281.5 L478.3 279.1 L479.2 276.7 L480.1 274.3 L481.0 271.9 L481.9 269.5 L482.8 267.1 L483.7 264.7 L484.7 262.3 L485.7 259.9 L486.7 257.6 L487.8 255.2 L488.8 252.8 L490.0 250.4 L491.1 248.0 L492.2 245.7 L493.4 243.3 L494.7 240.9 L496.0 238.5 L497.3 236.2 L498.6 233.8 L500.0 231.4 L501.4 229.0 L502.9 226.7 L504.4 224.3 L506.0 221.9 L507.6 219.5 L509.3 217.2 L511.0 214.8 L512.8 212.5 L514.6 210.2 L516.4 208.0 L518.3 205.9 L520.2 203.9 L522.2 202.0 L524.2 200.2 L526.2 198.5 L528.2 197.0 L530.3 195.7 L532.4 194.6 L534.5 193.6 L536.6 192.9 L538.8 192.4 L540.9 192.2 L543.1 192.3 L545.3 192.6 L547.5 193.1 L549.7 193.9 L551.8 195.0 L554.0 196.2 L556.2 197.6 L558.3 199.1 L560.5 200.8 L562.6 202.6 L564.6 204.4 L566.7 206.3 L568.7 208.3 L570.6 210.3 L572.5 212.3 L574.4 214.3 L576.2 216.3 L578.0 218.3 L579.8 220.4 L581.5 222.5 L583.2 224.5 L584.8 226.6 L586.4 228.8 L588.0 230.9 L589.6 233.0 L591.1 235.2 L592.6 237.4 L594.0 239.6 L595.4 241.7 L596.8 244.0 L598.2 246.2 L599.5 248.4 L600.8 250.7 L602.1 252.9 L603.4 255.2 L604.6 257.5 L605.9 259.7 L607.1 262.0 L608.3 264.4 L609.4 266.7 L610.6 269.0 L611.7 271.3 L612.8 273.7 L613.9 276.0 L615.0 278.4 L616.0 280.7 L617.1 283.1 L618.1 285.5 L619.1 287.9 L620.1 290.2 L621.1 292.6 L622.1 295.0 L623.1 297.4 L624.1 299.8 L625.1 302.2 L626.0 304.7 L627.0 307.1 L628.0 309.5 L628.9 311.9 L629.9 314.3 L630.8 316.8 L631.8 319.2 L632.7 321.6 L633.7 324.1 L634.7 326.5 L635.6 328.9 L636.6 331.4 L637.5 333.8 L638.5 336.2 L639.5 338.7 L640.4 341.1 L641.4 343.5 L642.4 346.0 L643.3 348.4 L644.3 350.9 L645.3 353.3 L646.3 355.7 L647.3 358.2 L648.2 360.6 L649.2 363.0 L650.2 365.5 L651.2 367.9 L652.2 370.3 L653.2 372.8 L654.2 375.2 L655.2 377.7 L656.2 380.1 L657.2 382.5 L658.3 384.9 L659.3 387.4 L660.3 389.8 L661.3 392.2 L662.4 394.7 L663.4 397.1 L664.4 399.5 L665.5 401.9 L666.5 404.4 L667.6 406.8 L668.6 409.2 L669.7 411.6 L670.8 414.0 L671.8 416.4 L672.9 418.8 L674.0 421.2 L675.1 423.6 L676.2 426.0 L677.3 428.4 L678.4 430.8 L679.5 433.2 L680.6 435.6 L681.7 438.0 L682.8 440.4 L684.0 442.8 L685.1 445.2 L686.2 447.5 L687.4 449.9 L688.6 452.3 L689.7 454.6 L690.9 457.0 L692.1 459.4 L693.3 461.7 L694.4 464.1 L695.6 466.4 L696.8 468.7 L698.1 471.1 L699.3 473.4 L700.5 475.7 L701.7 478.1 L703.0 480.4 L704.2 482.7 L705.5 485.0 L706.7 487.3 L708.0 489.6 L709.3 491.9 L710.6 494.2 L711.9 496.5 L713.2 498.8 L714.5 501.1 L715.8 503.3 L717.2 505.6 L718.5 507.9 L719.9 510.1 L721.2 512.4 L722.6 514.6 L724.0 516.9 L725.4 519.1 L726.7 521.3 L728.2 523.5 L729.6 525.8 L731.0 528.0 L732.4 530.2 L733.9 532.4 L735.3 534.5 L736.8 536.7 L738.3 538.9 L739.8 541.1 L741.3 543.2 L742.8 545.4 L744.3 547.5 L745.8 549.7 L747.3 551.8 L748.9 553.9 L750.5 556.1 L752.0 558.2 L753.6 560.3 L755.2 562.4 L756.8 564.5 L758.4 566.5 L760.1 568.6 L761.7 570.7 L763.3 572.7 L765.0 574.8 L766.7 576.8 L768.4 578.9 L770.1 580.9 L771.8 582.9 L773.5 584.9 L775.2 586.9 L777.0 588.9 L778.7 590.9 L780.5 592.8 L782.2 594.8 L784.0 596.7 L785.8 598.6 L787.6 600.6 L789.4 602.5 L791.3 604.4 L793.1 606.3 L795.0 608.1 L796.8 610.0 L798.7 611.9 L800.6 613.7 L802.5 615.5 L804.4 617.3 L806.3 619.1 L808.2 620.9 L810.1 622.7 L812.1 624.5 L814.0 626.2 L816.0 628.0 L818.0 629.7 L820.0 631.4 L822.0 633.1 L824.0 634.8 L826.0 636.5 L828.0 638.1 L830.0 639.8 L832.1 641.4 L834.2 643.0 L836.2 644.6 L838.3 646.2 L840.4 647.7 L842.5 649.3 L844.6 650.8 L846.7 652.3 L848.9 653.8 L851.0 655.3 L853.1 656.8 L855.3 658.3 L857.5 659.7 L859.7 661.1 L861.8 662.5 L864.0 663.9 L866.3 665.3 L868.5 666.6 L870.7 668.0 L872.9 669.3 L875.2 670.6 L877.4 671.9 L879.7 673.1 L882.0 674.4 L884.3 675.6 L886.6 676.8 L888.9 678.0 L891.2 679.1 L893.5 680.3 L895.9 681.4 L898.2 682.6 L900.5 683.7 L902.9 684.7 L905.3 685.8 L907.6 686.9 L910.0 687.9 L912.4 688.9 L914.8 689.9 L917.2 690.9 L919.6 691.9 L922.1 692.9 L924.5 693.8 L926.9 694.7 L929.4 695.6 L931.8 696.5 L934.3 697.4 L936.8 698.3 L939.2 699.1 L941.7 700.0 L944.2 700.8 L946.7 701.6 L949.2 702.4 L951.7 703.2 L954.2 704.0 L956.7 704.7 L959.2 705.5 L961.7 706.2 L964.3 706.9 L966.8 707.6 L969.4 708.3 L971.9 709.0 L974.5 709.7 L977.0 710.3 L979.6 710.9 L982.1 711.6 L984.7 712.2 L987.3 712.8 L989.9 713.4 L992.5 714.0 L995.1 714.6 L997.6 715.1 L1000.2 715.7 L1002.8 716.2 L1005.4 716.7 L1008.1 717.3 L1010.7 717.8 L1013.3 718.3 L1015.9 718.8 L1018.5 719.3 L1021.1 719.7 L1023.8 720.2 L1026.4 720.6 L1029.0 721.1 L1031.6 721.5 L1034.3 721.9 L1036.9 722.4 L1039.6 722.8 L1042.2 723.2 L1044.8 723.6 L1047.5 723.9 L1050.1 724.3 L1052.8 724.7 L1055.4 725.0 L1058.1 725.4 L1060.7 725.7 L1063.4 726.1 L1066.0 726.4 L1068.7 726.7 L1071.3 727.1 L1074.0 727.4 L1076.7 727.7 L1079.3 728.0 L1082.0 728.3 L1084.6 728.6 L1087.3 728.8 L1089.9 729.1 L1092.6 729.4 L1095.2 729.7 L1097.9 729.9 L1100.5 730.2 L1103.2 730.4 L1105.9 730.7 L1108.5 730.9 L1111.2 731.1 L1113.8 731.4 L1116.4 731.6 L1119.1 731.8 L1121.7 732.1 L1124.4 732.3 L1127.0 732.5 L1129.6 732.7 L1132.3 732.9 L1134.9 733.1 L1137.5 733.3 L1140.2 733.5 L1142.8 733.7 L1145.4 733.9 L1148.0 734.1 L1150.7 734.3 L1153.3 734.5 L1155.9 734.6 L1158.5 734.8 L1161.1 735.0 L1163.7 735.2 L1166.3 735.4 L1168.9 735.6 L1171.5 735.7 L1174.1 735.9 L1176.6 736.1 L1179.2 736.3 L1181.8 736.4 L1184.3 736.6 L1186.9 736.8 L1189.5 737.0 L1192.0 737.2 L1194.6 737.3 L1197.1 737.5 L1199.6 737.7 L1202.2 737.9 L1204.7 738.0 L1207.2 738.2 L1209.7 738.4 L1211.0 738.5" stroke="#ff24ff"/>
<path d="M254.5 716.1 L256.0 716.5 L258.8 717.0 L261.5 717.1 L264.0 716.9 L266.3 716.3 L268.6 715.4 L270.6 714.2 L272.6 712.7 L274.4 711.0 L276.1 709.1 L277.7 707.0 L279.1 704.7 L280.5 702.3 L281.8 699.8 L283.0 697.2 L284.1 694.5 L285.2 691.8 L286.2 689.0 L287.1 686.3 L288.0 683.6 L288.8 680.9 L289.6 678.2 L290.4 675.6 L291.1 672.9 L291.8 670.3 L292.5 667.7 L293.2 665.0 L293.8 662.4 L294.5 659.8 L295.1 657.3 L295.8 654.7 L296.4 652.1 L297.1 649.5 L297.8 646.9 L298.4 644.3 L299.2 641.8 L299.9 639.2 L300.7 636.6 L301.5 634.0 L302.3 631.4 L303.2 628.7 L304.2 626.1 L305.2 623.5 L306.3 620.9 L307.5 618.4 L308.9 616.0 L310.4 613.9 L312.2 612.1 L314.3 610.6 L316.6 609.5 L319.2 608.7 L321.9 608.1 L324.7 607.6 L327.4 607.0 L330.0 606.2 L332.5 605.3 L334.9 604.2 L337.2 603.0 L339.4 601.7 L341.5 600.2 L343.5 598.6 L345.4 596.9 L347.3 595.1 L349.1 593.3 L350.8 591.3 L352.5 589.3 L354.2 587.2 L355.8 585.1 L357.3 582.9 L358.8 580.7 L360.3 578.5 L361.8 576.3 L363.2 574.0 L364.6 571.7 L366.0 569.4 L367.4 567.1 L368.7 564.8 L370.1 562.5 L371.4 560.1 L372.6 557.8 L373.9 555.4 L375.1 553.0 L376.4 550.6 L377.6 548.2 L378.8 545.8 L379.9 543.3 L381.1 540.9 L382.2 538.4 L383.3 535.9 L384.4 533.5 L385.5 531.0 L386.6 528.5 L387.6 526.0 L388.7 523.4 L389.7 520.9 L390.7 518.4 L391.7 515.8 L392.7 513.3 L393.6 510.7 L394.6 508.2 L395.6 505.6 L396.5 503.0 L397.4 500.4 L398.3 497.8 L399.2 495.2 L400.1 492.6 L401.0 490.0 L401.9 487.4 L402.8 484.8 L403.6 482.2 L404.5 479.5 L405.3 476.9 L406.2 474.3 L407.0 471.6 L407.9 469.0 L408.7 466.4 L409.5 463.7 L410.3 461.1 L411.1 458.4 L412.0 455.8 L412.8 453.1 L413.6 450.5 L414.4 447.9 L415.2 445.2 L416.0 442.6 L416.8 439.9 L417.6 437.3 L418.4 434.6 L419.2 432.0 L420.0 429.4 L420.8 426.7 L421.6 424.1 L422.5 421.5 L423.3 418.9 L424.1 416.3 L424.9 413.6 L425.7 411.0 L426.6 408.4 L427.4 405.8 L428.2 403.2 L429.1 400.6 L429.9 398.0 L430.7 395.4 L431.6 392.8 L432.4 390.2 L433.3 387.7 L434.1 385.1 L435.0 382.5 L435.8 379.9 L436.7 377.3 L437.5 374.8 L438.4 372.2 L439.2 369.6 L440.1 367.1 L441.0 364.5 L441.8 361.9 L442.7 359.4 L443.6 356.8 L444.4 354.2 L445.3 351.7 L446.2 349.1 L447.0 346.6 L447.9 344.0 L448.8 341.5 L449.7 338.9 L450.5 336.4 L451.4 333.8 L452.3 331.3 L453.2 328.7 L454.1 326.2 L455.0 323.7 L455.9 321.1 L456.7 318.6 L457.6 316.0 L458.5 313.5 L459.4 310.9 L460.3 308.4 L461.2 305.9 L462.1 303.3 L463.0 300.8 L463.9 298.3 L464.8 295.7 L465.7 293.2 L466.6 290.6 L467.5 288.1 L468.4 285.6 L469.3 283.0 L470.2 280.5 L471.1 278.0 L472.0 275.4 L472.9 272.9 L473.8 270.3 L474.7 267.8 L475.6 265.3 L476.5 262.7 L477.4 260.2 L478.4 257.6 L479.3 255.1 L480.2 252.5 L481.1 250.0 L482.1 247.5 L483.0 244.9 L484.0 242.4 L484.9 239.8 L485.9 237.3 L486.8 234.7 L487.8 232.2 L488.8 229.6 L489.7 227.1 L490.7 224.5 L491.7 221.9 L492.7 219.4 L493.7 216.8 L494.7 214.3 L495.7 211.7 L496.8 209.1 L497.8 206.6 L498.8 204.0 L499.9 201.4 L501.0 198.9 L502.0 196.3 L503.1 193.7 L504.2 191.1 L505.3 188.6 L506.4 186.0 L507.5 183.4 L508.6 180.8 L509.8 178.3 L511.0 175.8 L512.3 173.3 L513.6 170.9 L515.1 168.6 L516.6 166.4 L518.3 164.4 L520.1 162.4 L522.1 160.6 L524.3 159.0 L526.6 157.6 L529.1 156.4 L531.8 155.4 L534.6 154.6 L537.3 154.1 L540.0 153.9 L542.6 153.8 L545.2 154.1 L547.6 154.6 L549.9 155.3 L552.2 156.2 L554.4 157.3 L556.5 158.6 L558.5 160.1 L560.5 161.7 L562.4 163.5 L564.3 165.4 L566.1 167.4 L567.9 169.5 L569.6 171.7 L571.2 173.9 L572.9 176.2 L574.5 178.6 L576.1 181.0 L577.7 183.3 L579.2 185.7 L580.8 188.1 L582.3 190.5 L583.8 192.9 L585.3 195.3 L586.7 197.7 L588.2 200.1 L589.6 202.6 L591.1 205.0 L592.5 207.4 L593.9 209.8 L595.2 212.2 L596.6 214.7 L598.0 217.1 L599.3 219.5 L600.6 221.9 L601.9 224.4 L603.2 226.8 L604.5 229.2 L605.8 231.7 L607.1 234.1 L608.3 236.6 L609.6 239.0 L610.8 241.5 L612.0 243.9 L613.2 246.4 L614.4 248.8 L615.6 251.3 L616.8 253.7 L617.9 256.2 L619.1 258.6 L620.2 261.1 L621.4 263.6 L622.5 266.0 L623.6 268.5 L624.7 271.0 L625.8 273.4 L626.9 275.9 L628.0 278.4 L629.1 280.8 L630.2 283.3 L631.2 285.8 L632.3 288.3 L633.4 290.7 L634.4 293.2 L635.4 295.7 L636.5 298.2 L637.5 300.7 L638.5 303.1 L639.6 305.6 L640.6 308.1 L641.6 310.6 L642.6 313.1 L643.6 315.6 L644.6 318.1 L645.6 320.5 L646.6 323.0 L647.6 325.5 L648.6 328.0 L649.6 330.5 L650.6 333.0 L651.6 335.5 L652.6 338.0 L653.5 340.5 L654.5 343.0 L655.5 345.5 L656.5 348.0 L657.5 350.5 L658.4 353.0 L659.4 355.4 L660.4 357.9 L661.4 360.4 L662.4 362.9 L663.4 365.4 L664.4 367.9 L665.3 370.4 L666.3 372.9 L667.3 375.4 L668.3 377.9 L669.3 380.4 L670.3 382.9 L671.3 385.4 L672.3 387.9 L673.4 390.4 L674.4 392.9 L675.4 395.4 L676.4 397.9 L677.5 400.3 L678.5 402.8 L679.5 405.3 L680.6 407.8 L681.7 410.3 L682.7 412.8 L683.8 415.3 L684.9 417.8 L685.9 420.3 L687.0 422.7 L688.1 425.2 L689.2 427.7 L690.3 430.2 L691.5 432.7 L692.6 435.2 L693.7 437.6 L694.9 440.1 L696.0 442.6 L697.2 445.1 L698.4 447.6 L699.6 450.0 L700.7 452.5 L701.9 455.0 L703.2 457.4 L704.4 459.9 L705.6 462.4 L706.9 464.8 L708.1 467.3 L709.4 469.7 L710.6 472.2 L711.9 474.6 L713.2 477.1 L714.5 479.5 L715.8 482.0 L717.1 484.4 L718.5 486.8 L719.8 489.2 L721.1 491.7 L722.5 494.1 L723.9 496.5 L725.2 498.9 L726.6 501.3 L728.0 503.7 L729.4 506.1 L730.8 508.4 L732.3 510.8 L733.7 513.2 L735.2 515.6 L736.6 517.9 L738.1 520.3 L739.6 522.6 L741.0 524.9 L742.5 527.3 L744.0 529.6 L745.6 531.9 L747.1 534.2 L748.6 536.5 L750.2 538.8 L751.7 541.1 L753.3 543.4 L754.9 545.6 L756.5 547.9 L758.1 550.1 L759.7 552.4 L761.3 554.6 L762.9 556.8 L764.6 559.0 L766.2 561.2 L767.9 563.4 L769.6 565.6 L771.3 567.8 L773.0 569.9 L774.7 572.1 L776.4 574.2 L778.1 576.4 L779.8 578.5 L781.6 580.6 L783.4 582.7 L785.1 584.8 L786.9 586.8 L788.7 588.9 L790.5 590.9 L792.3 593.0 L794.1 595.0 L796.0 597.0 L797.8 599.0 L799.7 601.0 L801.6 603.0 L803.4 604.9 L805.3 606.9 L807.2 608.8 L809.2 610.7 L811.1 612.6 L813.0 614.5 L815.0 616.4 L816.9 618.2 L818.9 620.1 L820.9 621.9 L822.9 623.7 L824.9 625.5 L826.9 627.3 L828.9 629.1 L831.0 630.8 L833.0 632.6 L835.1 634.3 L837.2 636.0 L839.2 637.7 L841.3 639.4 L843.5 641.0 L845.6 642.7 L847.7 644.3 L849.9 645.9 L852.0 647.5 L854.2 649.0 L856.4 650.6 L858.5 652.1 L860.8 653.6 L863.0 655.1 L865.2 656.6 L867.4 658.1 L869.7 659.5 L872.0 660.9 L874.2 662.3 L876.5 663.7 L878.8 665.1 L881.1 666.4 L883.4 667.8 L885.8 669.1 L888.1 670.4 L890.5 671.7 L892.8 672.9 L895.2 674.2 L897.6 675.4 L900.0 676.6 L902.4 677.8 L904.8 679.0 L907.2 680.2 L909.6 681.3 L912.1 682.4 L914.5 683.6 L917.0 684.7 L919.4 685.7 L921.9 686.8 L924.4 687.9 L926.9 688.9 L929.4 689.9 L931.9 690.9 L934.4 691.9 L936.9 692.9 L939.5 693.9 L942.0 694.8 L944.6 695.7 L947.1 696.7 L949.7 697.6 L952.3 698.4 L954.8 699.3 L957.4 700.2 L960.0 701.0 L962.6 701.9 L965.2 702.7 L967.8 703.5 L970.4 704.3 L973.1 705.1 L975.7 705.8 L978.3 706.6 L981.0 707.3 L983.6 708.1 L986.2 708.8 L988.9 709.5 L991.6 710.2 L994.2 710.9 L996.9 711.5 L999.6 712.2 L1002.2 712.8 L1004.9 713.5 L1007.6 714.1 L1010.3 714.7 L1013.0 715.3 L1015.7 715.9 L1018.4 716.5 L1021.1 717.0 L1023.8 717.6 L1026.5 718.1 L1029.2 718.7 L1032.0 719.2 L1034.7 719.7 L1037.4 720.2 L1040.1 720.7 L1042.9 721.2 L1045.6 721.7 L1048.3 722.1 L1051.1 722.6 L1053.8 723.0 L1056.5 723.5 L1059.3 723.9 L1062.0 724.3 L1064.8 724.7 L1067.5 725.1 L1070.3 725.5 L1073.0 725.9 L1075.7 726.3 L1078.5 726.7 L1081.2 727.0 L1084.0 727.4 L1086.7 727.7 L1089.5 728.1 L1092.2 728.4 L1095.0 728.7 L1097.7 729.0 L1100.5 729.4 L1103.2 729.7 L1106.0 730.0 L1108.7 730.2 L1111.5 730.5 L1114.2 730.8 L1116.9 731.1 L1119.7 731.3 L1122.4 731.6 L1125.2 731.8 L1127.9 732.1 L1130.6 732.3 L1133.4 732.6 L1136.1 732.8 L1138.8 733.0 L1141.5 733.2 L1144.3 733.4 L1147.0 733.7 L1149.7 733.9 L1152.4 734.1 L1155.1 734.2 L1157.8 734.4 L1160.5 734.6 L1163.2 734.8 L1165.9 735.0 L1168.6 735.2 L1171.3 735.3 L1174.0 735.5 L1176.6 735.6 L1179.3 735.8 L1182.0 736.0 L1184.6 736.1 L1187.3 736.3 L1190.0 736.4 L1192.6 736.6 L1195.2 736.7 L1197.9 736.8 L1200.5 737.0 L1203.1 737.1 L1205.8 737.2 L1208.4 737.4 L1211.0 737.5 L1211.0 737.5" stroke="#249624"/>
<path d="M254.5 718.0 L256.0 718.6 L257.5 719.0 L260.4 719.3 L263.1 719.0 L265.7 718.3 L268.0 717.1 L270.2 715.5 L272.3 713.6 L274.2 711.5 L276.0 709.3 L277.6 706.9 L279.1 704.5 L280.5 702.1 L281.7 699.5 L282.9 696.9 L284.0 694.3 L285.0 691.6 L285.9 688.9 L286.8 686.2 L287.7 683.4 L288.5 680.7 L289.2 677.9 L290.0 675.2 L290.7 672.5 L291.5 669.8 L292.2 667.1 L293.0 664.4 L293.8 661.8 L294.6 659.2 L295.5 656.6 L296.3 654.0 L297.1 651.4 L297.9 648.7 L298.6 646.1 L299.4 643.3 L300.1 640.6 L300.7 637.7 L301.4 634.8 L301.7 633.4 L302.0 631.9 L302.3 630.4 L302.6 628.9 L302.9 627.4 L303.3 625.9 L303.6 624.5 L304.0 623.0 L304.4 621.5 L305.3 618.7 L306.4 616.1 L307.7 613.7 L309.4 611.7 L311.3 610.1 L313.5 608.6 L315.9 607.4 L318.4 606.4 L321.1 605.4 L323.8 604.6 L326.6 603.7 L329.3 602.9 L332.0 601.9 L334.5 600.9 L337.0 599.7 L339.4 598.4 L341.6 596.9 L343.8 595.4 L345.8 593.7 L347.8 591.9 L349.6 590.0 L351.4 588.0 L353.1 586.0 L354.8 583.8 L356.4 581.6 L357.9 579.3 L359.4 577.0 L360.8 574.6 L362.2 572.2 L363.5 569.7 L364.8 567.2 L366.1 564.7 L367.3 562.1 L368.6 559.6 L369.8 557.0 L371.0 554.5 L372.2 551.9 L373.4 549.4 L374.5 546.8 L375.7 544.2 L376.8 541.6 L377.9 539.1 L379.0 536.5 L380.2 533.9 L381.2 531.3 L382.3 528.7 L383.4 526.1 L384.4 523.5 L385.5 520.9 L386.5 518.2 L387.5 515.6 L388.6 513.0 L389.6 510.4 L390.6 507.8 L391.5 505.1 L392.5 502.5 L393.5 499.9 L394.4 497.2 L395.4 494.6 L396.3 491.9 L397.3 489.3 L398.2 486.6 L399.1 484.0 L400.0 481.3 L400.9 478.7 L401.8 476.0 L402.7 473.3 L403.6 470.7 L404.4 468.0 L405.3 465.3 L406.2 462.6 L407.0 460.0 L407.9 457.3 L408.7 454.6 L409.6 451.9 L410.4 449.2 L411.3 446.6 L412.1 443.9 L412.9 441.2 L413.7 438.5 L414.6 435.8 L415.4 433.1 L416.2 430.4 L417.0 427.7 L417.8 425.0 L418.6 422.3 L419.4 419.6 L420.2 416.9 L421.0 414.2 L421.8 411.5 L422.6 408.8 L423.4 406.1 L424.2 403.4 L425.0 400.7 L425.8 398.0 L426.6 395.3 L427.4 392.5 L428.2 389.8 L429.0 387.1 L429.8 384.4 L430.6 381.7 L431.5 379.0 L432.3 376.3 L433.1 373.6 L433.9 370.9 L434.7 368.1 L435.5 365.4 L436.3 362.7 L437.2 360.0 L438.0 357.3 L438.8 354.6 L439.7 351.9 L440.5 349.2 L441.3 346.5 L442.2 343.8 L443.0 341.0 L443.9 338.3 L444.8 335.6 L445.6 332.9 L446.5 330.2 L447.4 327.5 L448.3 324.8 L449.2 322.1 L450.1 319.4 L451.0 316.7 L451.9 314.0 L452.8 311.3 L453.7 308.6 L454.6 305.9 L455.5 303.2 L456.4 300.5 L457.3 297.8 L458.2 295.2 L459.1 292.5 L460.1 289.8 L461.0 287.1 L461.9 284.4 L462.8 281.7 L463.7 279.0 L464.6 276.3 L465.5 273.7 L466.4 271.0 L467.3 268.3 L468.2 265.6 L469.0 262.9 L469.9 260.3 L470.8 257.6 L471.7 254.9 L472.5 252.3 L473.4 249.6 L474.2 246.9 L475.1 244.2 L475.9 241.6 L476.7 238.9 L477.6 236.2 L478.4 233.6 L479.2 230.9 L480.0 228.3 L480.7 225.6 L481.5 222.9 L482.3 220.3 L483.0 217.6 L483.8 215.0 L484.5 212.3 L485.2 209.7 L486.0 207.0 L486.7 204.4 L487.5 201.8 L488.2 199.1 L489.0 196.5 L489.8 193.9 L490.6 191.2 L491.4 188.6 L492.3 186.0 L493.2 183.4 L494.1 180.8 L495.1 178.2 L496.1 175.6 L497.1 173.1 L498.2 170.5 L499.4 167.9 L500.6 165.4 L501.8 162.8 L503.1 160.3 L504.5 157.7 L505.9 155.2 L507.4 152.7 L509.0 150.2 L510.7 147.7 L511.5 146.5 L512.4 145.2 L513.3 144.0 L514.2 142.8 L515.2 141.5 L516.1 140.3 L517.1 139.1 L518.1 137.9 L519.1 136.7 L520.1 135.6 L521.2 134.4 L522.2 133.3 L523.3 132.2 L524.4 131.1 L525.5 130.1 L527.7 128.1 L530.0 126.3 L532.3 124.6 L534.6 123.1 L536.9 121.8 L539.3 120.8 L541.7 120.0 L544.0 119.5 L546.4 119.2 L548.8 119.3 L551.1 119.7 L553.4 120.4 L555.8 121.3 L558.0 122.5 L560.3 124.0 L562.5 125.6 L564.7 127.4 L566.9 129.4 L569.0 131.4 L570.0 132.5 L571.1 133.6 L572.1 134.8 L573.1 135.9 L574.1 137.0 L575.1 138.2 L576.1 139.4 L577.0 140.6 L578.0 141.7 L578.9 142.9 L579.8 144.1 L581.6 146.5 L583.4 148.9 L585.1 151.3 L586.8 153.7 L588.4 156.2 L590.0 158.6 L591.5 161.1 L593.0 163.5 L594.5 166.0 L595.9 168.5 L597.3 171.0 L598.7 173.5 L600.0 176.0 L601.3 178.6 L602.6 181.1 L603.8 183.6 L605.0 186.2 L606.2 188.7 L607.3 191.3 L608.5 193.9 L609.6 196.4 L610.7 199.0 L611.8 201.6 L612.8 204.2 L613.9 206.8 L614.9 209.4 L615.9 212.0 L616.9 214.5 L617.9 217.1 L618.9 219.7 L619.9 222.3 L620.9 224.9 L621.9 227.6 L622.8 230.2 L623.8 232.8 L624.8 235.4 L625.7 238.0 L626.7 240.6 L627.7 243.1 L628.7 245.7 L629.6 248.3 L630.6 250.9 L631.6 253.5 L632.5 256.1 L633.5 258.7 L634.5 261.3 L635.4 263.9 L636.4 266.5 L637.4 269.1 L638.3 271.7 L639.3 274.3 L640.3 276.9 L641.3 279.5 L642.2 282.1 L643.2 284.7 L644.2 287.2 L645.2 289.8 L646.1 292.4 L647.1 295.0 L648.1 297.6 L649.1 300.2 L650.1 302.8 L651.1 305.4 L652.1 308.0 L653.1 310.6 L654.1 313.2 L655.0 315.7 L656.0 318.3 L657.1 320.9 L658.1 323.5 L659.1 326.1 L660.1 328.7 L661.1 331.3 L662.1 333.9 L663.1 336.5 L664.2 339.1 L665.2 341.7 L666.2 344.2 L667.2 346.8 L668.3 349.4 L669.3 352.0 L670.4 354.6 L671.4 357.2 L672.5 359.8 L673.5 362.4 L674.6 365.0 L675.7 367.6 L676.7 370.2 L677.8 372.8 L678.9 375.4 L680.0 378.0 L681.1 380.6 L682.2 383.2 L683.3 385.8 L684.4 388.4 L685.5 391.0 L686.6 393.6 L687.7 396.2 L688.9 398.8 L690.0 401.4 L691.1 404.0 L692.3 406.6 L693.4 409.2 L694.6 411.8 L695.8 414.4 L696.9 417.0 L698.1 419.6 L699.3 422.3 L700.5 424.9 L701.7 427.5 L702.9 430.1 L704.1 432.7 L705.3 435.3 L706.5 437.9 L707.8 440.5 L709.0 443.1 L710.3 445.6 L711.5 448.2 L712.8 450.8 L714.0 453.4 L715.3 456.0 L716.6 458.6 L717.9 461.1 L719.2 463.7 L720.5 466.3 L721.8 468.8 L723.1 471.4 L724.5 474.0 L725.8 476.5 L727.1 479.1 L728.5 481.6 L729.9 484.1 L731.2 486.7 L732.6 489.2 L734.0 491.7 L735.4 494.2 L736.8 496.7 L738.2 499.2 L739.6 501.7 L741.1 504.2 L742.5 506.7 L743.9 509.2 L745.4 511.7 L746.9 514.1 L748.3 516.6 L749.8 519.0 L751.3 521.5 L752.8 523.9 L754.3 526.3 L755.9 528.7 L757.4 531.1 L758.9 533.5 L760.5 535.9 L762.1 538.3 L763.6 540.7 L765.2 543.1 L766.8 545.4 L768.4 547.8 L770.0 550.1 L771.7 552.4 L773.3 554.7 L774.9 557.0 L776.6 559.3 L778.3 561.6 L779.9 563.9 L781.6 566.1 L783.3 568.4 L785.0 570.6 L786.8 572.8 L788.5 575.1 L790.2 577.3 L792.0 579.5 L793.8 581.6 L795.5 583.8 L797.3 585.9 L799.1 588.1 L800.9 590.2 L802.8 592.3 L804.6 594.4 L806.4 596.5 L808.3 598.6 L810.2 600.6 L812.1 602.7 L814.0 604.7 L815.9 606.7 L817.8 608.7 L819.7 610.7 L821.7 612.7 L823.6 614.6 L825.6 616.6 L827.6 618.5 L829.6 620.4 L831.6 622.3 L833.6 624.2 L835.7 626.0 L837.7 627.9 L839.8 629.7 L841.8 631.5 L843.9 633.3 L846.0 635.1 L848.2 636.8 L850.3 638.6 L852.4 640.3 L854.6 642.0 L856.8 643.7 L858.9 645.3 L861.1 647.0 L863.4 648.6 L865.6 650.2 L867.8 651.8 L870.1 653.4 L872.4 654.9 L874.6 656.5 L876.9 658.0 L879.3 659.5 L881.6 661.0 L883.9 662.4 L886.3 663.8 L888.7 665.3 L891.0 666.7 L893.4 668.0 L895.8 669.4 L898.3 670.7 L900.7 672.1 L903.2 673.4 L905.6 674.6 L908.1 675.9 L910.6 677.1 L913.1 678.4 L915.6 679.6 L918.1 680.8 L920.6 682.0 L923.2 683.1 L925.7 684.3 L928.3 685.4 L930.9 686.5 L933.5 687.6 L936.0 688.6 L938.7 689.7 L941.3 690.7 L943.9 691.8 L946.5 692.8 L949.2 693.8 L951.8 694.8 L954.5 695.7 L957.2 696.7 L959.8 697.6 L962.5 698.5 L965.2 699.4 L967.9 700.3 L970.6 701.2 L973.3 702.0 L976.1 702.9 L978.8 703.7 L981.5 704.5 L984.3 705.3 L987.0 706.1 L989.8 706.8 L992.5 707.6 L995.3 708.4 L998.1 709.1 L1000.9 709.8 L1003.7 710.5 L1006.4 711.2 L1009.2 711.9 L1012.0 712.5 L1014.8 713.2 L1017.7 713.8 L1020.5 714.5 L1023.3 715.1 L1026.1 715.7 L1028.9 716.3 L1031.8 716.9 L1034.6 717.4 L1037.4 718.0 L1040.3 718.5 L1043.1 719.1 L1045.9 719.6 L1048.8 720.1 L1051.6 720.6 L1054.5 721.1 L1057.3 721.6 L1060.2 722.1 L1063.0 722.5 L1065.9 723.0 L1068.7 723.4 L1071.6 723.9 L1074.5 724.3 L1077.3 724.7 L1080.2 725.1 L1083.0 725.5 L1085.9 725.9 L1088.7 726.3 L1091.6 726.6 L1094.4 727.0 L1097.3 727.4 L1100.2 727.7 L1103.0 728.0 L1105.8 728.4 L1108.7 728.7 L1111.5 729.0 L1114.4 729.3 L1117.2 729.6 L1120.1 729.9 L1122.9 730.2 L1125.7 730.5 L1128.6 730.7 L1131.4 731.0 L1134.2 731.3 L1137.0 731.5 L1139.8 731.8 L1142.6 732.0 L1145.4 732.2 L1148.2 732.5 L1151.0 732.7 L1153.8 732.9 L1156.6 733.1 L1159.4 733.3 L1162.2 733.5 L1164.9 733.7 L1167.7 733.9 L1170.5 734.1 L1173.2 734.3 L1176.0 734.5 L1178.7 734.7 L1181.4 734.8 L1184.2 735.0 L1186.9 735.2 L1189.6 735.3 L1192.3 735.5 L1195.0 735.6 L1197.7 735.8 L1200.3 735.9 L1203.0 736.1 L1205.7 736.2 L1208.3 736.4 L1211.0 736.5 L1211.0 736.5" stroke="#2a2a94"/>
</g>
<g font-family="'Liberation Serif', serif" font-weight="bold" fill="#000">
<text x="90.0" y="48.3" font-size="44">3.0x10<tspan font-size="26" dx="-0.3" dy="-14">5</tspan></text>
<text x="91.0" y="160.3" font-size="44">2.5x10<tspan font-size="26" dx="-0.3" dy="-14">5</tspan></text>
<text x="95.0" y="281.0" font-size="44">2.0x10<tspan font-size="26" dx="-0.3" dy="-14">5</tspan></text>
<text x="94.5" y="401.0" font-size="44">1.5x10<tspan font-size="26" dx="-0.3" dy="-14">5</tspan></text>
<text x="96.5" y="513.8" font-size="44">1.0x10<tspan font-size="26" dx="-0.3" dy="-14">5</tspan></text>
<text x="100.8" y="636.8" font-size="44">0.5x10<tspan font-size="26" dx="-0.3" dy="-14">5</tspan></text>
<text x="173" y="752.2" font-size="44">0.0</text>
<text transform="translate(370.0 863.6) scale(0.97 1)" font-size="42">400</text>
<text transform="translate(694.3 863.6) scale(0.97 1)" font-size="42">500</text>
<text transform="translate(1019.0 863.6) scale(0.97 1)" font-size="42">600</text>
<text transform="translate(611 935.3) scale(0.953 1)" font-size="46">Wavelength (nm)</text>
<text transform="translate(43.6 581.5) rotate(-90) scale(0.99 1)" font-size="44">PL Intensity (a.u.)</text>
</g>
<rect x="1073.5" y="19.2" width="199.5" height="301.5" fill="none" stroke="#a0a0a0" stroke-width="3"/>
<line x1="1072" y1="320.7" x2="1274.5" y2="320.7" stroke="#8a8a8a" stroke-width="3.2"/>
<g font-family="'Liberation Serif', serif" font-weight="bold" fill="#000" font-size="43">
<line x1="1085" y1="47.8" x2="1177.8" y2="47.8" stroke="#262626" stroke-width="4.6"/>
<text transform="translate(1185 62.0) scale(0.962 1)">0%</text>
<line x1="1085" y1="98.0" x2="1177.8" y2="98.0" stroke="#ff2424" stroke-width="4.6"/>
<text transform="translate(1185 112.2) scale(0.962 1)">10%</text>
<line x1="1085" y1="148.3" x2="1177.8" y2="148.3" stroke="#2424ff" stroke-width="4.6"/>
<text transform="translate(1185 162.5) scale(0.962 1)">20%</text>
<line x1="1085" y1="198.6" x2="1177.8" y2="198.6" stroke="#ff24ff" stroke-width="4.6"/>
<text transform="translate(1185 212.8) scale(0.962 1)">30%</text>
<line x1="1085" y1="249.0" x2="1177.8" y2="249.0" stroke="#249624" stroke-width="4.6"/>
<text transform="translate(1185 263.2) scale(0.962 1)">40%</text>
<line x1="1085" y1="300.3" x2="1177.8" y2="300.3" stroke="#2a2a94" stroke-width="4.6"/>
<text transform="translate(1185 314.5) scale(0.962 1)">50%</text>
</g>
<rect x="827" y="160" width="10.4" height="397.6" fill="#ff0000"/>
<polygon points="832.2,123 847.5,163.2 816.8,163.2" fill="#ff0000"/>
</svg>
</body></html>
